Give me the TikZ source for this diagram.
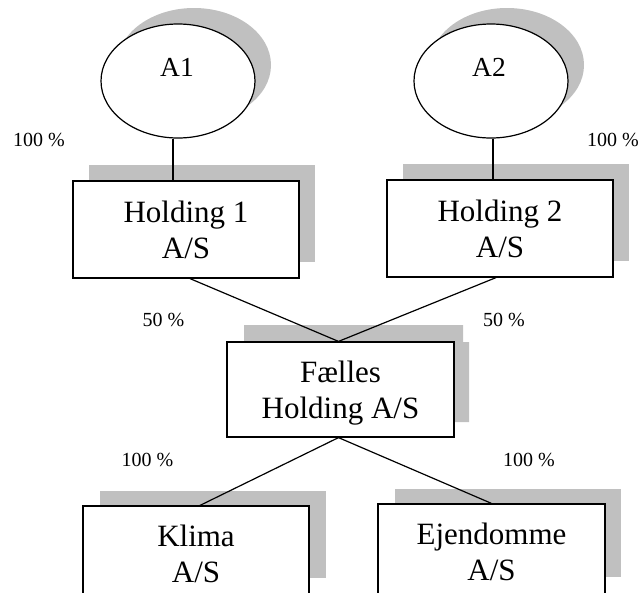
\documentclass[tikz,border=0pt]{standalone}
\usepackage{fontspec}
\setmainfont{Liberation Serif}
\usetikzlibrary{shapes.geometric,calc}
\definecolor{shadowgray}{RGB}{192,192,192}
\begin{document}
\begin{tikzpicture}[x=1pt,y=-1pt,
  owner/.style={draw,line width=1.2pt,ellipse,fill=white,minimum width=154pt,minimum height=114pt,inner sep=0pt},
  company/.style={draw,line width=1.2pt,fill=white,minimum width=226pt,minimum height=97pt,inner sep=0pt,align=center,font=\fontsize{31}{36}\selectfont,text depth=0pt},
  share/.style={anchor=base,font=\fontsize{20}{24}\selectfont,inner sep=0pt},
  tag/.style={anchor=base,font=\fontsize{27.5}{33}\selectfont,inner sep=0pt},
  link/.style={line width=1.2pt},
  dropshadow/.style={fill=shadowgray}]
\useasboundingbox (0,0) rectangle (639,592);

% drop shadows
\path[dropshadow] (194,65) ellipse [x radius=77, y radius=57];
\path[dropshadow] (507,65) ellipse [x radius=77, y radius=57];
\path[dropshadow] (89,165) rectangle (315,262);
\path[dropshadow] (403,164) rectangle (629,261);
\path[dropshadow] (244,325) -- (463,325) -- (463,342) -- (469,342) -- (469,422) -- (244,422) -- cycle;
\path[dropshadow] (100,491) rectangle (326,578);
\path[dropshadow] (395,489) rectangle (621,577);

% owners
\node[owner] (A1) at (178,81) {};
\node[owner] (A2) at (491,81) {};
\node[tag] (A1t) at (177,76) {A1};
\node[tag] (A2t) at (489,76) {A2};

% companies
\node[company] (H1) at (186,229.5) {Holding 1\\A/S};
\node[company] (H2) at (500,228.5) {Holding 2\\A/S};
\node[company,minimum width=227pt,minimum height=95pt] (F) at (340.5,389.5) {Fælles\\Holding A/S};
\node[company,minimum height=96pt] (K) at (196,554) {Klima\\A/S};
\node[company,minimum width=227pt,minimum height=96pt] (E) at (491.5,552) {Ejendomme\\A/S};

% ownership links
\draw[link] ($(A1.south)+(-5,0)$) -- ($(H1.north)+(-13,0)$);
\draw[link] ($(A2.south)+(2,0)$) -- ($(H2.north)+(-7,0)$);
\draw[link] ($(H1.south)+(4,0)$) -- ($(F.north)+(-2,0)$);
\draw[link] ($(H2.south)+(-4,0)$) -- ($(F.north)+(-2,0)$);
\draw[link] ($(F.south)+(-2,0)$) -- ($(K.north)+(4,0)$);
\draw[link] ($(F.south)+(-2,0)$) -- (E.north);

% ownership shares
\node[share] (p1) at (39,146.7) {100 \%};
\node[share] (p2) at (613,146.7) {100 \%};
\node[share] (p3) at (163.5,326.7) {50 \%};
\node[share] (p4) at (504,326.7) {50 \%};
\node[share] (p5) at (147.5,466.7) {100 \%};
\node[share] (p6) at (529,466.3) {100 \%};
\end{tikzpicture}
\end{document}
